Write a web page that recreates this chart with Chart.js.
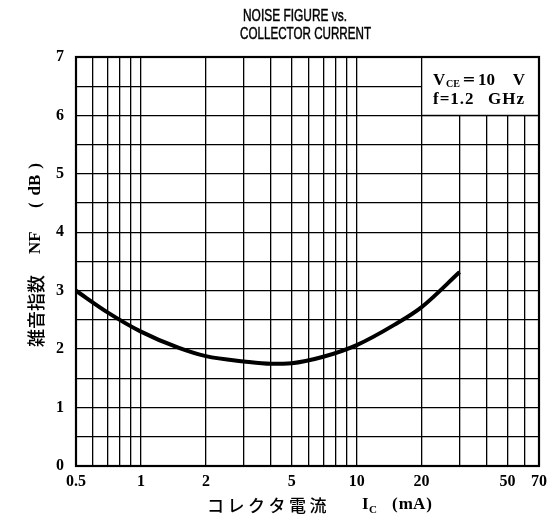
<!DOCTYPE html>
<html>
<head>
<meta charset="utf-8">
<script src="https://cdn.jsdelivr.net/npm/chart.js@4.4.1/dist/chart.umd.min.js"></script>
<style>
  html, body { margin: 0; padding: 0; background: #fff; }
</style>
</head>
<body>
<canvas id="myChart" width="555" height="520"></canvas>
<script>
const currents = [0.5, 0.7, 1, 1.5, 2, 3, 4, 5, 7, 10, 15, 20, 30];        // Ic (mA)
const noiseFigure = [3.0, 2.63, 2.3, 2.02, 1.88, 1.79, 1.75, 1.76, 1.87, 2.07, 2.42, 2.72, 3.32]; // NF (dB)
const xGridValues = [0.5, 0.6, 0.7, 0.8, 0.9, 1, 2, 3, 4, 5, 6, 7, 8, 9, 10, 20, 30, 40, 50, 60, 70];
const xTickLabels = [0.5, 1, 2, 5, 10, 20, 50, 70];
const yTickLabels = [0, 1, 2, 3, 4, 5, 6, 7];

const serif = '"Liberation Serif", "DejaVu Serif", serif';
const cjk = '"Noto Sans CJK JP", sans-serif';

// squeeze or stretch a line of text to a given width
function fitText(ctx, text, x, y, width) {
  const w = ctx.measureText(text).width;
  ctx.save();
  ctx.translate(x, y);
  ctx.scale(width / w, 1);
  ctx.fillText(text, 0, 0);
  ctx.strokeText(text, 0, 0);
  ctx.restore();
}

// frame, condition box and all titles
const decorations = {
  id: 'decorations',
  afterDatasetsDraw(chart) {
    const { ctx, chartArea: a, scales: { x, y } } = chart;
    ctx.save();

    // condition box in the top right corner
    const bx = x.getPixelForValue(20), by = y.getPixelForValue(6);
    ctx.fillStyle = '#fff';
    ctx.fillRect(bx, a.top, a.right - bx, by - a.top);
    ctx.strokeStyle = '#000';
    ctx.lineWidth = 1.3;
    ctx.strokeRect(bx, a.top, a.right - bx, by - a.top);

    ctx.fillStyle = '#000';
    ctx.textBaseline = 'alphabetic';
    ctx.textAlign = 'left';
    ctx.font = 'bold 17px ' + serif;
    ctx.fillText('V', 433, 85);
    ctx.font = 'bold 10px ' + serif;
    ctx.fillText('CE', 446, 87);
    ctx.font = 'bold 17px ' + serif;
    ctx.lineWidth = 0.2;
    fitText(ctx, '=', 463, 85, 12);
    ctx.fillText('10', 478, 85);
    ctx.textAlign = 'right';
    ctx.fillText('V', 525, 85);
    ctx.textAlign = 'left';
    ctx.letterSpacing = '1px';
    ctx.fillText('f=1.2', 433, 104);
    ctx.textAlign = 'right';
    ctx.fillText('GHz', 525, 104);
    ctx.letterSpacing = '0px';

    // heavy frame
    ctx.lineWidth = 2.2;
    ctx.strokeRect(a.left, a.top, a.right - a.left, a.bottom - a.top);

    // chart title
    ctx.textAlign = 'left';
    ctx.textBaseline = 'middle';
    ctx.lineWidth = 0.5;
    ctx.font = '17px "Liberation Sans", Arial, sans-serif';
    fitText(ctx, 'NOISE FIGURE vs.', 243, 16, 104);
    fitText(ctx, 'COLLECTOR CURRENT', 240, 34, 131);

    // x axis title
    ctx.font = '500 17px ' + cjk;
    ctx.letterSpacing = '3.5px';
    ctx.fillText('コレクタ電流', 207, 506);
    ctx.letterSpacing = '0px';
    ctx.font = 'bold 17px ' + serif;
    ctx.fillText('I', 362, 505);
    ctx.font = 'bold 11px ' + serif;
    ctx.fillText('C', 369, 510);
    ctx.font = 'bold 17px ' + serif;
    ctx.fillText('(', 392, 505);
    ctx.textAlign = 'center';
    ctx.fillText('mA', 412, 505);
    ctx.textAlign = 'right';
    ctx.fillText(')', 432, 505);

    // y axis title, rotated
    ctx.translate(36, 0);
    ctx.rotate(-Math.PI / 2);
    ctx.textAlign = 'left';
    ctx.font = '500 18px ' + cjk;
    ctx.fillText('雑音指数', -347, 0);
    ctx.font = 'bold 17px ' + serif;
    ctx.fillText('NF', -254, 0);
    ctx.fillText('(', -208, 0);
    ctx.textAlign = 'center';
    ctx.fillText('dB', -185, 0);
    ctx.textAlign = 'right';
    ctx.fillText(')', -163, 0);
    ctx.restore();
  }
};

new Chart(document.getElementById('myChart'), {
  type: 'line',
  data: {
    datasets: [{
      label: 'NF',
      data: currents.map((c, i) => ({ x: c, y: noiseFigure[i] })),
      borderColor: '#000',
      borderWidth: 4,
      pointRadius: 0,
      tension: 0.4,
      cubicInterpolationMode: 'monotone',
      fill: false
    }]
  },
  options: {
    responsive: false,
    animation: false,
    layout: { padding: { top: 57, right: 16, left: 0, bottom: 0 } },
    plugins: {
      legend: { display: false },
      title: { display: false },
      tooltip: { enabled: false }
    },
    scales: {
      x: {
        type: 'logarithmic',
        min: 0.5,
        max: 70,
        afterBuildTicks: axis => { axis.ticks = xGridValues.map(v => ({ value: v })); },
        afterFit: axis => { axis.height = 54; },
        grid: { color: '#000', lineWidth: 1.3, drawTicks: false },
        border: { display: false },
        ticks: {
          autoSkip: false,
          maxRotation: 0,
          padding: 6,
          color: '#000',
          font: { family: serif, size: 16, weight: 'bold' },
          callback: v => xTickLabels.includes(v) ? String(v) : ''
        }
      },
      y: {
        min: 0,
        max: 7,
        afterFit: axis => { axis.width = 76; },
        grid: { color: '#000', lineWidth: 1.3, drawTicks: false },
        border: { display: false },
        ticks: {
          stepSize: 0.5,
          autoSkip: false,
          padding: 12,
          color: '#000',
          font: { family: serif, size: 16, weight: 'bold' },
          callback: v => yTickLabels.includes(v) ? String(v) : ''
        }
      }
    }
  },
  plugins: [decorations]
});
</script>
</body>
</html>
